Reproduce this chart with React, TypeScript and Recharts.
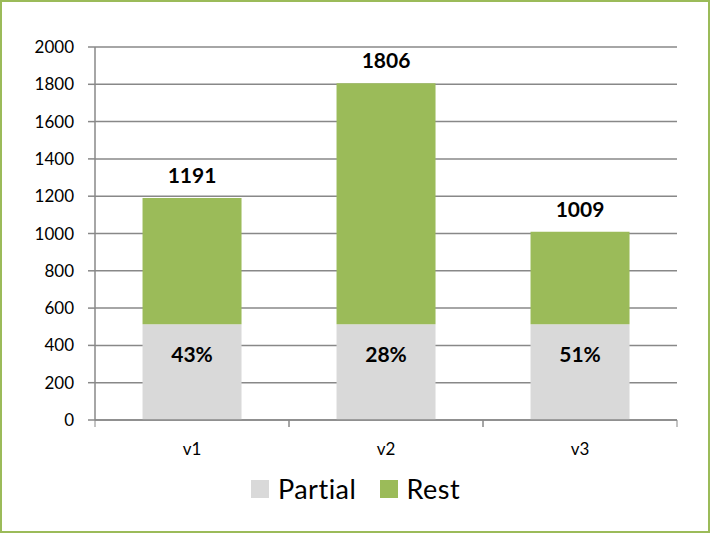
import React from 'react';
import { BarChart, Bar, XAxis, YAxis, CartesianGrid, LabelList, Legend } from 'recharts';

const categories = ['v1', 'v2', 'v3'];
const partial = [513, 513, 514];
const totals = [1191, 1806, 1009];
const percents = ['43%', '28%', '51%'];
const yTicks = [0, 200, 400, 600, 800, 1000, 1200, 1400, 1600, 1800, 2000];

const data = categories.map((name, i) => ({
  name,
  partial: partial[i],
  rest: totals[i] - partial[i],
  total: totals[i],
  pct: percents[i],
}));

const FONT = 'Lato, "Open Sans", sans-serif';
const AXIS = '#888888';
const GRAY = '#d9d9d9';
const GREEN = '#9bbb59';

const W = 711;
const H = 534;
const M = { top: 47, right: 34, left: 0, bottom: 51 };
const Y_W = 95;
const BAND = (W - M.right - Y_W) / categories.length;

const XTick = (props: any) => {
  const { x, y, payload } = props;
  return (
    <g>
      <line x1={x + BAND / 2} y1={y - 8} x2={x + BAND / 2} y2={y - 1} stroke={AXIS} />
      <line x1={x - BAND / 2} y1={y - 8} x2={x - BAND / 2} y2={y - 1} stroke={AXIS} />
      <text x={x} y={y + 27} textAnchor="middle" fontSize={17} fill="#000" fontFamily={FONT}>
        {payload.value}
      </text>
    </g>
  );
};

const TotalLabel = (props: any) => {
  const { x, y, width, index } = props;
  return (
    <text x={x + width / 2} y={y - 15} textAnchor="middle" fontSize={21} fontWeight="bold" fill="#000" fontFamily={FONT}>
      {totals[index]}
    </text>
  );
};

const PctLabel = (props: any) => {
  const { x, y, width, index } = props;
  return (
    <text x={x + width / 2} y={y + 38} textAnchor="middle" fontSize={21} fontWeight="bold" fill="#000" fontFamily={FONT}>
      {percents[index]}
    </text>
  );
};

const LegendBox = () => (
  <div style={{ display: 'flex', justifyContent: 'center', alignItems: 'center', fontFamily: FONT, fontSize: 27, color: '#000', letterSpacing: 0.5 }}>
    <span style={{ display: 'inline-block', width: 18, height: 18, background: GRAY, marginRight: 9 }} />
    <span style={{ marginRight: 24 }}>Partial</span>
    <span style={{ display: 'inline-block', width: 18, height: 18, background: GREEN, marginRight: 8 }} />
    <span>Rest</span>
  </div>
);

export default function App() {
  return (
    <div
      style={{
        position: 'absolute',
        left: 0,
        top: 0,
        width: W,
        height: H,
        background: '#fff',
      }}
    >
      <div
        style={{
          position: 'absolute',
          left: 0,
          top: 0,
          width: W - 1,
          height: H - 1,
          border: `2px solid ${GREEN}`,
          boxSizing: 'border-box',
        }}
      />
      <BarChart width={W} height={H} data={data} margin={M} barCategoryGap="24.5%">
        <CartesianGrid vertical={false} stroke={AXIS} strokeWidth={1.5} />
        <XAxis
          dataKey="name"
          axisLine={{ stroke: AXIS, strokeWidth: 1.5 }}
          tickLine={false}
          tick={<XTick />}
          interval={0}
        />
        <YAxis
          width={Y_W}
          domain={[0, 2000]}
          ticks={yTicks}
          interval={0}
          axisLine={{ stroke: AXIS, strokeWidth: 1.5 }}
          tickLine={{ stroke: AXIS, strokeWidth: 1.5 }}
          tickSize={7}
          tickMargin={14}
          tick={{ fontSize: 17, fill: '#000', fontFamily: FONT }}
        />
        <Legend verticalAlign="bottom" wrapperStyle={{ top: 472, left: 0, width: W }} content={<LegendBox />} />
        <Bar dataKey="partial" stackId="a" fill={GRAY} isAnimationActive={false}>
          <LabelList dataKey="pct" content={<PctLabel />} />
        </Bar>
        <Bar dataKey="rest" stackId="a" fill={GREEN} isAnimationActive={false}>
          <LabelList dataKey="total" content={<TotalLabel />} />
        </Bar>
      </BarChart>
    </div>
  );
}
